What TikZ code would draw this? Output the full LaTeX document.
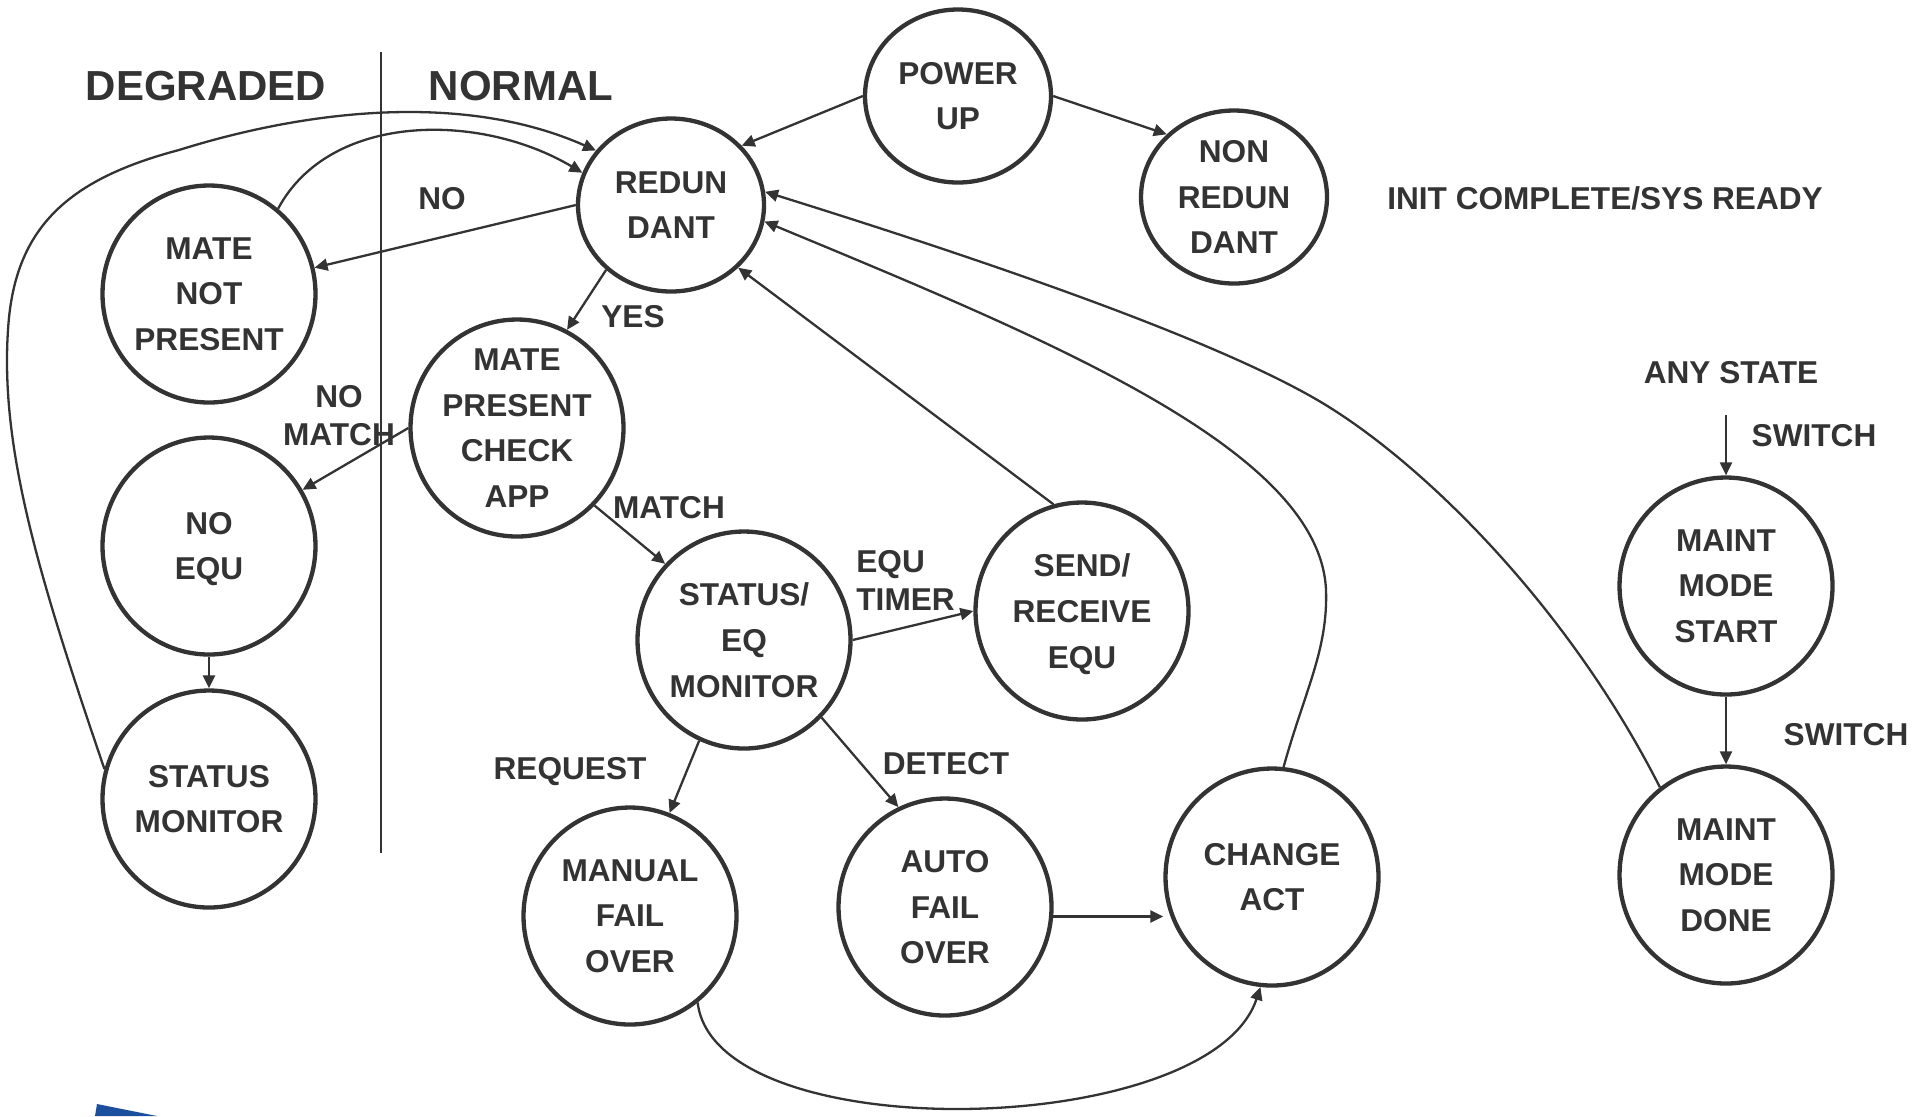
\documentclass[tikz,border=0pt]{standalone}
\usepackage{fontspec}
\setmainfont{Liberation Sans}
\usetikzlibrary{
  arrows.meta,
  shapes.geometric
}
\definecolor{ink}{HTML}{333333}
\definecolor{logoblue}{HTML}{1C4E9E}
\tikzset{
  state/.style={ellipse, draw=ink, line width=2.15pt, inner sep=-4pt,
    minimum width=106.5pt, minimum height=108.5pt, align=center, text=ink,
    text depth=0pt, font=\fontsize{15.8}{22.8}\selectfont\bfseries},
  smallstate/.style={state, inner sep=0pt, minimum width=93pt, minimum height=86.5pt},
  lbl/.style={inner sep=0pt, align=center, text=ink, text depth=0pt,
    font=\fontsize{15.8}{19}\selectfont\bfseries},
  hdr/.style={inner sep=0pt, text=ink, font=\fontsize{21}{25}\selectfont\bfseries},
  trans/.style={->, draw=ink, line width=1.15pt},
  >={Triangle[length=6.5pt,width=6pt]}
}

\begin{document}
\begin{tikzpicture}[x=0.5pt, y=-0.5pt]
  \def\Xdeg{209};
  \def\Xmnt{1726};
  \useasboundingbox (0,0) rectangle (1925,1116);

        \node[hdr] (hdeg) at (206,86) {DEGRADED};
        \node[hdr] (hnorm) at (521,86) {NORMAL};
        \draw[ink, line width=1.4pt] (381,52) -- (381,853);

        \node[smallstate] (pwrup) at (958,96) {POWER\\UP};
        \node[smallstate] (nonred) at (1234,197) {NON\\REDUN\\DANT};
        \node[smallstate] (redun) at (671,205) {REDUN\\DANT};

        \node[state] (matenot) at (\Xdeg,294) {MATE\\NOT\\PRESENT};
        \node[state] (noequ) at (\Xdeg,546) {NO\\EQU};
        \node[state] (statmon) at (\Xdeg,799) {STATUS\\MONITOR};

        \node[state] (matechk) at (517,428) {MATE\\PRESENT\\CHECK\\APP};
        \node[state] (steqmon) at (744,640) {STATUS/\\EQ\\MONITOR};
        \node[state] (sendrecv) at (1082,611) {SEND/\\RECEIVE\\EQU};
        \node[state] (manfail) at (630,916) {MANUAL\\FAIL\\OVER};
        \node[state] (autofail) at (945,907) {AUTO\\FAIL\\OVER};
        \node[state] (chgact) at (1272,877) {CHANGE\\ACT};

        \node[state] (mntstart) at (\Xmnt,586) {MAINT\\MODE\\START};
        \node[state] (mntdone) at (\Xmnt,875) {MAINT\\MODE\\DONE};

        \node[lbl] (lno) at (442,198) {NO};
        \node[lbl] (lyes) at (633,316) {YES};
        \node[lbl] (lnomatch) at (339,415) {NO\\MATCH};
        \node[lbl] (lmatch) at (669,507) {MATCH};
        \node[lbl, align=left, anchor=west] (ltimer) at (856,580) {EQU\\TIMER};
        \node[lbl] (lreq) at (570,768) {REQUEST};
        \node[lbl] (ldet) at (946,763) {DETECT};
        \node[lbl] (linit) at (1605,198) {INIT COMPLETE/SYS READY};
        \node[lbl] (lany) at (1731,372) {ANY STATE};
        \node[lbl] (lsw1) at (1814,435) {SWITCH};
        \node[lbl] (lsw2) at (1846,734) {SWITCH};
        \coordinate (swin) at (\Xmnt,415);

	\draw[trans] (pwrup.west) -- (redun.40);
	\draw[trans] (pwrup.east) -- (nonred.137);
	\draw[trans] (redun.west) -- (matenot.14);
	\draw[trans] (redun.225) -- (matechk.63);
	\draw[trans] (matenot.51) .. controls (330,112) and (480,112) .. (redun.160);
	\draw[trans] (statmon.164) .. controls (40,580) and (0,450) .. (8,330)
	    .. controls (14,230) and (65,180) .. (179,150)
	    .. controls (300,112) and (460,90) .. (redun.144);
	\draw[trans] (matechk.west) -- (noequ.31);
	\draw[trans] (matechk.315) -- (steqmon.136);
	\draw[trans] (noequ.south) -- (statmon.north);
	\draw[trans] (steqmon.east) -- (sendrecv.west);
	\draw[trans] (sendrecv.105) -- (redun.317);
	\draw[trans] (steqmon.246) -- (manfail.69);
	\draw[trans] (steqmon.315) -- (autofail.115);
	\draw[trans] (autofail.-5) -- (autofail.-5 -| chgact.west);
	\draw[trans] (manfail.308) .. controls (715,1150) and (1210,1140) .. (chgact.264);
	\draw[trans] (chgact.84) .. controls (1305,690) and (1328,650) .. (1326,590)
	    .. controls (1320,450) and (1050,340) .. (redun.-10);
	\draw[trans] (mntdone.127) .. controls (1570,610) and (1430,470) .. (1329,407)
	    .. controls (1230,345) and (1000,265) .. (redun.8);
	\draw[trans] (swin) -- (mntstart.north);
	\draw[trans] (mntstart.south) -- (mntdone.north);

        \fill[logoblue] (97,1104) -- (157,1116) -- (95,1116) -- cycle;

\end{tikzpicture}
\end{document}
